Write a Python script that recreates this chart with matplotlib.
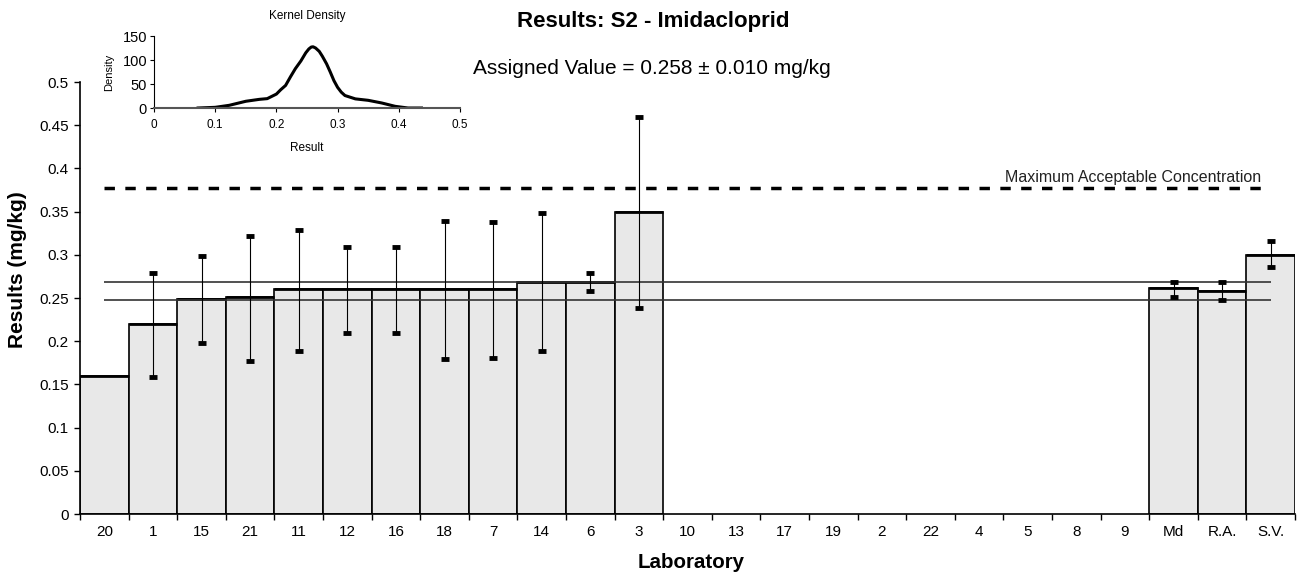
import matplotlib
matplotlib.use('Agg')
import matplotlib.pyplot as plt
import numpy as np

plt.rcParams['font.family'] = ['Liberation Sans', 'DejaVu Sans']

# laboratories in plotted order (10..9 reported nothing)
labs = ['20', '1', '15', '21', '11', '12', '16', '18', '7', '14', '6', '3',
        '10', '13', '17', '19', '2', '22', '4', '5', '8', '9', 'Md', 'R.A.', 'S.V.']
nan = np.nan
results = [0.160, 0.220, 0.249, 0.251, 0.260, 0.260, 0.260, 0.260, 0.260, 0.269, 0.268, 0.350,
           nan, nan, nan, nan, nan, nan, nan, nan, nan, nan, 0.261, 0.258, 0.300]
err_low = [nan, 0.159, 0.198, 0.177, 0.189, 0.209, 0.209, 0.179, 0.181, 0.189, 0.258, 0.239,
           nan, nan, nan, nan, nan, nan, nan, nan, nan, nan, 0.251, 0.248, 0.286]
err_high = [nan, 0.279, 0.299, 0.322, 0.329, 0.309, 0.309, 0.339, 0.338, 0.348, 0.279, 0.460,
            nan, nan, nan, nan, nan, nan, nan, nan, nan, nan, 0.269, 0.269, 0.316]
assigned = 0.258
uncert = 0.010
max_conc = 0.377

# kernel density curve
kde_x = [0.072, 0.100, 0.123, 0.150, 0.172, 0.185, 0.200, 0.207, 0.215, 0.223, 0.231, 0.240,
         0.248, 0.253, 0.257, 0.260, 0.264, 0.270, 0.275, 0.282, 0.288, 0.294, 0.300, 0.306,
         0.312, 0.329, 0.350, 0.372, 0.394, 0.415, 0.437]
kde_y = [0, 1.4, 5.6, 14, 18, 19.5, 29, 38, 47, 65, 82, 98,
         115, 123, 127, 127.5, 125, 118, 108, 92, 75, 57, 43, 33,
         26, 19, 16, 10.5, 3.5, 0, 0]

results = np.array(results)
err_low = np.array(err_low)
err_high = np.array(err_high)
x = np.arange(len(labs))
has = ~np.isnan(results)

fig = plt.figure(figsize=(13, 5.77), dpi=100)
ax = fig.add_axes([80/1300, 1-514/577, 1215/1300, 432/577])

ax.bar(x[has], results[has], width=1.0, color='#e8e8e8', edgecolor='black', linewidth=1.2, zorder=2)
ax.hlines(results[has], x[has]-0.5, x[has]+0.5, colors='black', linewidth=2, zorder=2.5)
ok = has & ~np.isnan(err_low)
ax.errorbar(x[ok], results[ok], yerr=[results[ok]-err_low[ok], err_high[ok]-results[ok]],
            fmt='none', ecolor='black', elinewidth=0.8, capsize=3, capthick=3.5, zorder=4)

ax.hlines([assigned-uncert, assigned+uncert], 0, len(labs)-1, colors='#333333', linewidth=1.2, zorder=3)
ax.hlines(max_conc, 0, len(labs)-1.2, colors='black', linestyles=(0, (3, 3)), linewidth=2.5, zorder=3)
ax.text(len(labs)-1.2, max_conc+0.004, 'Maximum Acceptable Concentration', ha='right', va='bottom',
        fontsize=11.5, color='#222222')

ax.set_xlim(-0.5, len(labs)-0.5)
ax.set_ylim(0, 0.5)
ax.set_yticks(np.arange(0, 0.501, 0.05))
ax.set_yticklabels(['0', '0.05', '0.1', '0.15', '0.2', '0.25', '0.3', '0.35', '0.4', '0.45', '0.5'])
ax.set_xticks(x)
ax.set_xticklabels(labs)
ax.set_xticks(np.arange(-0.5, len(labs)), minor=True)
ax.tick_params(axis='x', which='major', length=0, pad=8, labelsize=11)
ax.tick_params(axis='x', which='minor', length=4, width=1)
ax.tick_params(axis='y', length=4, width=1, labelsize=11, pad=4)
for s in ['top', 'right']:
    ax.spines[s].set_visible(False)
ax.spines['left'].set_linewidth(1.2)
ax.spines['bottom'].set_linewidth(1.2)

fig.text(18/1300, 1-270/577, 'Results (mg/kg)', rotation=90, ha='center', va='center',
         fontsize=15, fontweight='bold')
fig.text(691/1300, 1-563/577, 'Laboratory', ha='center', va='center', fontsize=14.8, fontweight='bold')
fig.text(653/1300, 1-22/577, 'Results: S2 - Imidacloprid', ha='center', va='center',
         fontsize=16, fontweight='bold')
fig.text(652/1300, 1-68/577, 'Assigned Value = 0.258 \u00b1 0.010 mg/kg', ha='center', va='center',
         fontsize=15)

# inset kernel density
ins = fig.add_axes([154/1300, 1-108/577, 306/1300, 72/577])
ins.plot(kde_x, kde_y, color='black', linewidth=2.2)
ins.set_xlim(0, 0.5)
ins.set_ylim(0, 150)
ins.set_xticks([0, 0.1, 0.2, 0.3, 0.4, 0.5])
ins.set_xticklabels(['0', '0.1', '0.2', '0.3', '0.4', '0.5'])
ins.set_yticks([0, 50, 100, 150])
ins.tick_params(axis='x', labelsize=8.5, length=3, pad=5)
ins.tick_params(axis='y', labelsize=10.5, length=3, pad=2)
ins.patch.set_alpha(0)
for s in ['top', 'right']:
    ins.spines[s].set_visible(False)
ins.spines['bottom'].set_linewidth(1.5)
ins.spines['bottom'].set_color('#555555')
ins.set_title('Kernel Density', fontsize=8.5, pad=12)
ins.set_xlabel('Result', fontsize=8.5, labelpad=8)
ins.set_ylabel('Density', fontsize=8, labelpad=6)

fig.savefig('out.png', dpi=100)
